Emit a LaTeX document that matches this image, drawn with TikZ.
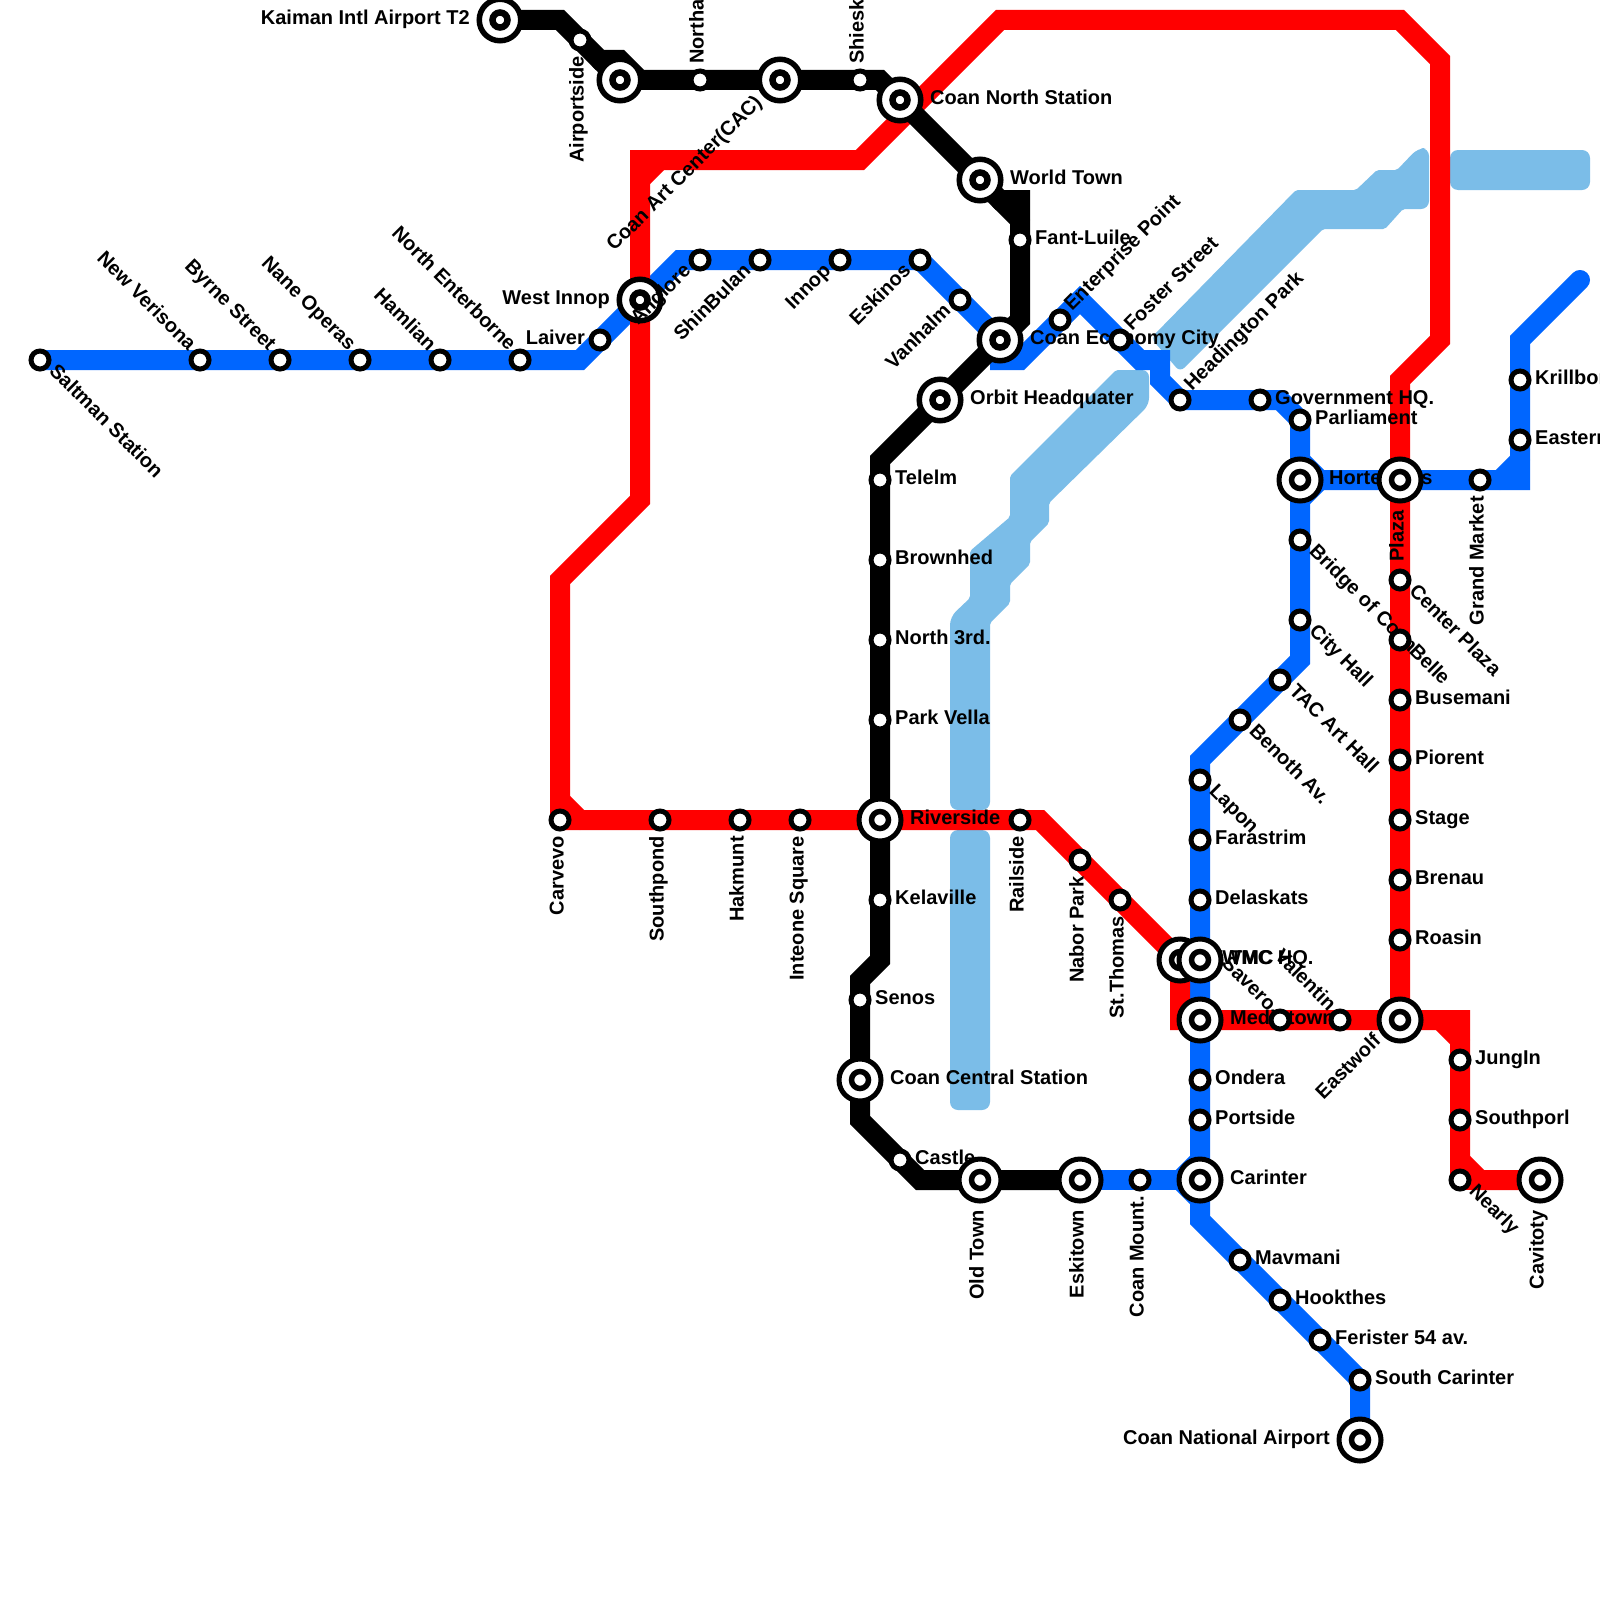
\documentclass[tikz,border=0pt]{standalone}
\usepackage{fontspec}
\setmainfont{Liberation Sans}
\definecolor{mblue}{RGB}{0,102,255}
\definecolor{mred}{RGB}{255,0,0}
\definecolor{river}{RGB}{123,189,232}
\tikzset{
  line/.style={line width=20pt,line cap=round,line join=miter,miter limit=10},
  riverfill/.style={fill=river,draw=none},
  smallst/.style={circle,draw=black,fill=white,line width=5pt,minimum size=18pt,inner sep=0pt},
  bigst/.style={circle,draw=black,fill=white,line width=5pt,minimum size=42pt,inner sep=0pt},
  bigin/.style={circle,draw=black,fill=white,line width=5.5pt,minimum size=17pt,inner sep=0pt},
  tightst/.style={circle,draw=black,fill=white,line width=5.5pt,minimum size=41.5pt,inner sep=0pt},
  tightin/.style={circle,draw=black,fill=white,line width=6.5pt,minimum size=15pt,inner sep=0pt},
  lab/.style={font=\bfseries\fontsize{20}{22}\selectfont,inner sep=0pt,text=black},
}
\newcommand\Sm[1]{\node[smallst] (st-#1) at (#1) {};}
\newcommand\Bg[1]{\node[bigst] (stb-#1) at (#1) {};\node[bigin] (st-#1) at (#1) {};}
\newcommand\Bt[1]{\node[tightst] (stb-#1) at (#1) {};\node[tightin] (st-#1) at (#1) {};}
\newcommand\LR[3][15]{\node[lab,anchor=mid west] (lb-#2) at ([xshift=#1pt,yshift=-2pt]#2) {#3};}
\newcommand\LL[3][15]{\node[lab,anchor=mid east] (lb-#2) at ([xshift=-#1pt,yshift=-2pt]#2) {#3};}
\newcommand\LB[3][16]{\node[lab,rotate=90,anchor=mid east] (lb-#2) at ([xshift=1pt,yshift=-#1pt]#2) {#3};}
\newcommand\LT[3][16]{\node[lab,rotate=90,anchor=mid west] (lb-#2) at ([xshift=1pt,yshift=#1pt]#2) {#3};}
\newcommand\LDR[3][10]{\node[lab,rotate=-45,anchor=mid west] (lb-#2) at ([xshift=#1pt,yshift=-#1pt]#2) {#3};}
\newcommand\LUL[3][10]{\node[lab,rotate=-45,anchor=mid east] (lb-#2) at ([xshift=-#1pt,yshift=#1pt]#2) {#3};}
\newcommand\LUR[3][10]{\node[lab,rotate=45,anchor=mid west] (lb-#2) at ([xshift=#1pt,yshift=#1pt]#2) {#3};}
\newcommand\LDL[3][10]{\node[lab,rotate=45,anchor=mid east] (lb-#2) at ([xshift=-#1pt,yshift=-#1pt]#2) {#3};}
\begin{document}
\begin{tikzpicture}[x=1pt,y=-1pt]
\useasboundingbox (0,0) rectangle (1600,1600);
\fill[white] (0,0) rectangle (1600,1600);
% river
\fill[riverfill,rounded corners=2pt] (1296,190)--(1356,190)--(1377,170)--(1397,170)[rounded corners=8pt]--(1418,148)--(1429,148)--(1429,209)[rounded corners=2pt]--(1403,209)--(1385,229)--(1323,229)[rounded corners=6pt]--(1180,372)--(1151,338)[rounded corners=2pt]--cycle;
\fill[riverfill,rounded corners=8pt] (1450,150) rectangle (1590,190);
\fill[riverfill,rounded corners=2pt] (1116,370)[rounded corners=7pt]--(1149,370)--(1149,405)[rounded corners=2pt]--(1049,503)--(1049,523)--(1030,542)--(1030,564)--(1010,584)--(1010,603)--(990,623)[rounded corners=8pt]--(990,810)--(950,810)--(950,617)[rounded corners=2pt]--(970,598)--(970,551)--(1010,517)--(1010,476)--cycle;
\fill[riverfill,rounded corners=8pt] (950,830) rectangle (990,1110);
% stations
\foreach \n/\x/\y in {saltman/40/360,verisona/200/360,byrne/280/360,nane/360/360,hamlian/440/360,enterborne/520/360,laiver/600/340,westinnop/640/300,anglore/700/260,shinbulan/760/260,innop/840/260,eskinos/920/260,vanhalm/960/300,economy/1000/340,enterprise/1060/320,foster/1120/340,headington/1180/400,govhq/1260/400,parliament/1300/420,hortensis/1300/480,bridge/1300/540,cityhall/1300/620,tac/1280/680,benoth/1240/720,lapon/1200/780,farastrim/1200/840,delaskats/1200/900,tmchq/1200/960,medtown/1200/1020,ondera/1200/1080,portside/1200/1120,carinter/1200/1180,mavmani/1240/1260,hookthes/1280/1300,ferister/1320/1340,southcar/1360/1380,national/1360/1440,plaza/1400/480,grandmarket/1480/480,eastern/1520/440,krillbor/1520/380,coanmount/1140/1180,
carvevo/560/820,southpond/660/820,hakmunt/740/820,inteone/800/820,riverside/880/820,railside/1020/820,nabor/1080/860,stthomas/1120/900,twmc/1180/960,savero/1280/1020,valentin/1340/1020,eastwolf/1400/1020,roasin/1400/940,brenau/1400/880,stagest/1400/820,piorent/1400/760,busemani/1400/700,belle/1400/640,centerplaza/1400/580,jungin/1460/1060,southporl/1460/1120,nearly/1460/1180,cavitoty/1540/1180,
kaiman/500/20,airportside/580/40,blackA/620/80,northa/700/80,blackB/780/80,shiesk/860/80,coannorth/900/100,worldtown/980/180,fantluile/1020/240,orbit/940/400,telelm/880/480,brownhed/880/560,north3rd/880/640,parkvella/880/720,kelaville/880/900,senos/860/1000,coancentral/860/1080,castle/900/1160,oldtown/980/1180,eskitown/1080/1180}
  {\coordinate (\n) at (\x,\y);}
% bends
\foreach \n/\x/\y in {bA/580/360,bB/680/260,bC/920/260,bD/1000/360,bE/1020/360,bF/1080/300,bG/1140/360,bH/1160/360,bI/1160/380,bJ/1280/400,bK/1300/660,bL/1200/760,bM/1200/1220,bN/1500/480,bO/1520/480,bP/1520/460,bQ/1520/340,bR/1580/280,bS/1300/460,bT/1320/480,bU/1300/500,bV/1180/1180,bW/1200/1160,bX/1200/1200,
rA/1040/820,rB/1180/1020,rC/1460/1020,rD/1440/1020,rE/1460/1040,rF/1460/1160,rG/1480/1180,rH/1400/380,rI/1440/340,rJ/1440/60,rK/1400/20,rL/1000/20,rM/860/160,rN/640/160,rO/640/500,rP/560/580,rQ/560/800,rR/580/820,rS/640/180,rT/660/160,
kA/560/20,kB/600/60,kC/620/60,kD/640/80,kE/880/80,kF/1000/200,kG/1020/200,kH/1020/320,kI/880/460,kJ/880/960,kK/860/980,kL/860/1120,kM/920/1180,kN/1020/220}
  {\coordinate (\n) at (\x,\y);}
% blue line
\draw[line,mblue] (saltman)--(bA)--(bB)--(bC)--(economy)--(bD)--(bE)--(bF)--(foster)--(bG)--(bH)--(bI)--(headington)--(bJ)--(parliament)--(bK)--(bL)--(bM)--(southcar)--(national);
\draw[line,mblue] (hortensis)--(bN)--(bO)--(bQ)--(bR);
\draw[line,mblue] (bN)--(bP);
\draw[line,mblue] (bS)--(bT)--(bU);
\draw[line,mblue] (eskitown)--(carinter);
\draw[line,mblue] (bW)--(bV)--(bX);
% red line
\draw[line,mred] (rQ)--(rP)--(rO)--(rN)--(rM)--(rL)--(rK)--(rJ)--(rI)--(rH)--(eastwolf)--(rC)--(rF)--(nearly);
\draw[line,mred] (carvevo)--(rA)--(twmc)--(rB)--(eastwolf);
\draw[line,mred] (rQ)--(rR);
\draw[line,mred] (carvevo)--(rQ);
\draw[line,mred] (rS)--(rT);
\draw[line,mred] (rD)--(rE);
\draw[line,mred] (rF)--(rG)--(cavitoty);
\draw[line,mred] (nearly)--(rG);
% black line
\draw[line,black] (kaiman)--(kA)--(kB)--(kC)--(kD)--(kE)--(coannorth)--(worldtown)--(kF)--(kG)--(kH)--(economy)--(kI)--(kJ)--(kK)--(kL)--(kM)--(eskitown);
\draw[line,black] (kB)--(blackA);
\draw[line,black] (kF)--(kN);
% blue stations and labels
\Sm{saltman}\LDR{saltman}{Saltman Station}
\Sm{verisona}\LUL{verisona}{New Verisona}
\Sm{byrne}\LUL{byrne}{Byrne Street}
\Sm{nane}\LUL{nane}{Nane Operas}
\Sm{hamlian}\LUL{hamlian}{Hamlian}
\Sm{enterborne}\LUL{enterborne}{North Enterborne}
\Sm{laiver}\LL{laiver}{Laiver}
\Bt{westinnop}\LL[30]{westinnop}{West Innop}
\Sm{anglore}\LDL{anglore}{Anglore}
\Sm{shinbulan}\LDL{shinbulan}{ShinBulan}
\Sm{innop}\LDL{innop}{Innop}
\Sm{eskinos}\LDL{eskinos}{Eskinos}
\Sm{vanhalm}\LDL{vanhalm}{Vanhalm}
\Bt{economy}\LR[30]{economy}{Coan Economy City}
\Sm{enterprise}\LUR{enterprise}{Enterprise Point}
\Sm{foster}\LUR{foster}{Foster Street}
\Sm{headington}\LUR{headington}{Headington Park}
\Sm{govhq}\LR{govhq}{Government HQ.}
\Sm{parliament}\LR{parliament}{Parliament}
\Bg{hortensis}\LR[29]{hortensis}{Hortensias}
\Sm{bridge}\LDR{bridge}{Bridge of Coan}
\Sm{cityhall}\LDR{cityhall}{City Hall}
\Sm{tac}\LDR{tac}{TAC Art Hall}
\Sm{benoth}\LDR{benoth}{Benoth Av.}
\Sm{lapon}\LDR{lapon}{Lapon}
\Sm{farastrim}\LR{farastrim}{Farastrim}
\Sm{delaskats}\LR{delaskats}{Delaskats}
\Bg{twmc}\LR[30]{twmc}{TWMC HQ.}
\Bg{tmchq}\LR[30]{tmchq}{TMC}
\Sm{ondera}\LR{ondera}{Ondera}
\Sm{portside}\LR{portside}{Portside}
\Bg{carinter}\LR[30]{carinter}{Carinter}
\Sm{mavmani}\LR{mavmani}{Mavmani}
\Sm{hookthes}\LR{hookthes}{Hookthes}
\Sm{ferister}\LR{ferister}{Ferister 54 av.}
\Sm{southcar}\LR{southcar}{South Carinter}
\Bg{national}\LL[30]{national}{Coan National Airport}
\Sm{grandmarket}\LB{grandmarket}{Grand Market}
\Sm{eastern}\LR{eastern}{Eastern}
\Sm{krillbor}\LR{krillbor}{Krillbor}
\Sm{coanmount}\LB{coanmount}{Coan Mount.}
% red stations and labels
\node[lab,rotate=45] (lb-cac) at (685,174) {Coan Art Center(CAC)};
\Sm{carvevo}\LB{carvevo}{Carvevo}
\Sm{southpond}\LB{southpond}{Southpond}
\Sm{hakmunt}\LB{hakmunt}{Hakmunt}
\Sm{inteone}\LB{inteone}{Inteone Square}
\Bg{riverside}\LR[30]{riverside}{Riverside}
\Sm{railside}\LB{railside}{Railside}
\Sm{nabor}\LB{nabor}{Nabor Park}
\Sm{stthomas}\LB{stthomas}{St.Thomas}
\Bg{medtown}\LR[30]{medtown}{Medintown}
\Sm{savero}\LUL{savero}{Savero}
\Sm{valentin}\LUL{valentin}{Valentin}
\Bg{eastwolf}\LDL[20]{eastwolf}{Eastwolf}
\Sm{roasin}\LR{roasin}{Roasin}
\Sm{brenau}\LR{brenau}{Brenau}
\Sm{stagest}\LR{stagest}{Stage}
\Sm{piorent}\LR{piorent}{Piorent}
\Sm{busemani}\LR{busemani}{Busemani}
\Sm{belle}\LDR{belle}{Belle}
\Sm{centerplaza}\LDR{centerplaza}{Center Plaza}
\Bg{plaza}\LB[30]{plaza}{Plaza}
\Sm{jungin}\LR{jungin}{JungIn}
\Sm{southporl}\LR{southporl}{Southporl}
\Sm{nearly}\LDR{nearly}{Nearly}
\Bg{cavitoty}\LB[30]{cavitoty}{Cavitoty}
% black stations and labels
\Bt{kaiman}\LL[30]{kaiman}{Kaiman Intl Airport T2}
\Sm{airportside}\LB{airportside}{Airportside}
\Bt{blackA}
\Sm{northa}\LT{northa}{Northa}
\Bt{blackB}
\Sm{shiesk}\LT{shiesk}{Shiesk}
\Bt{coannorth}\LR[30]{coannorth}{Coan North Station}
\Bt{worldtown}\LR[30]{worldtown}{World Town}
\Sm{fantluile}\LR{fantluile}{Fant-Luile}
\Bt{orbit}\LR[30]{orbit}{Orbit Headquater}
\Sm{telelm}\LR{telelm}{Telelm}
\Sm{brownhed}\LR{brownhed}{Brownhed}
\Sm{north3rd}\LR{north3rd}{North 3rd.}
\Sm{parkvella}\LR{parkvella}{Park Vella}
\Sm{kelaville}\LR{kelaville}{Kelaville}
\Sm{senos}\LR{senos}{Senos}
\Bg{coancentral}\LR[30]{coancentral}{Coan Central Station}
\Sm{castle}\LR{castle}{Castle}
\Bg{oldtown}\LB[30]{oldtown}{Old Town}
\Bg{eskitown}\LB[30]{eskitown}{Eskitown}
\end{tikzpicture}
\end{document}
